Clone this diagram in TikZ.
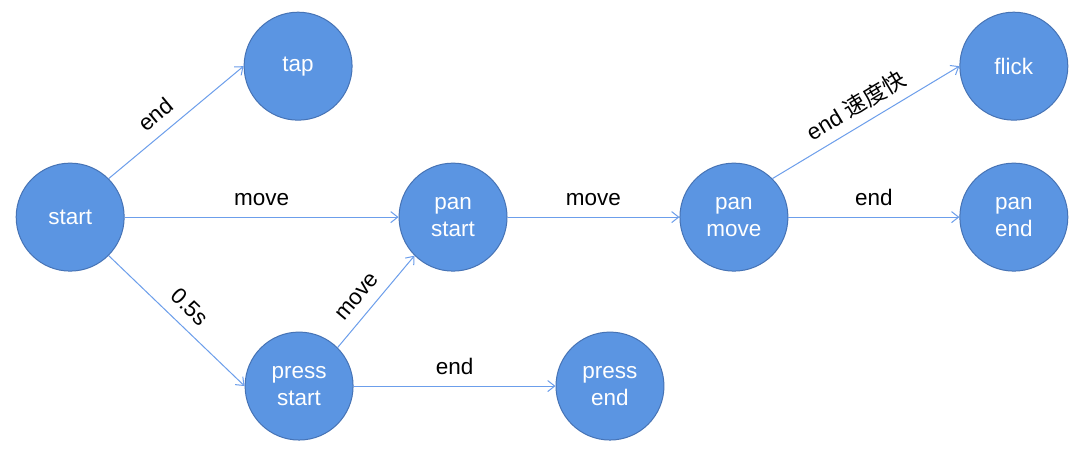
\documentclass[tikz,border=0pt]{standalone}
\usepackage{fontspec}
\setmainfont{Liberation Sans}
\newfontfamily\cjk{Noto Sans CJK SC}
\usetikzlibrary{arrows.meta}
\definecolor{statefill}{HTML}{5B95E2}
\definecolor{stateline}{HTML}{4673B5}
\definecolor{edgeline}{HTML}{6C9EEB}

\begin{document}
\begin{tikzpicture}[x=1pt,y=1pt,
  state/.style={circle,draw=stateline,fill=statefill,line width=1pt,minimum size=108pt,
    inner sep=0pt,align=center,text=white,font=\fontsize{22.5}{27}\selectfont},
  trans/.style={draw=edgeline,line width=1pt,-{Straight Barb[length=7pt,width=11pt]}},
  lbl/.style={font=\fontsize{22.5}{27}\selectfont,inner sep=2pt,text depth=0pt}]
\filldraw[color=white] (0.000000, 0.000000) rectangle (1089.000000, 455.000000);
% Drawing states
\node[state] (start) at (70.000000, 238.000000) {start};
\node[state] (tap) at (298.000000, 389.000000) {tap};
\node[state] (panstart) at (453.000000, 238.000000) {pan\\start};
\node[state] (pressstart) at (299.000000, 69.000000) {press\\start};
\node[state] (pressend) at (610.000000, 69.000000) {press\\end};
\node[state] (panmove) at (734.000000, 238.000000) {pan\\move};
\node[state] (flick) at (1014.000000, 389.000000) {flick};
\node[state] (panend) at (1014.000000, 238.000000) {pan\\end};
% Done with states; drawing transitions
\draw[trans] (start.north east) -- node[lbl,pos=0.44,sloped,above=9pt] {end} (tap.west);
\draw[trans] (start.east) -- node[lbl,midway,above=9pt] {move} (panstart.west);
\draw[trans] (start.south east) -- node[lbl,midway,sloped,above=9pt] {0.5s} (pressstart.west);
\draw[trans] (pressstart.north east) -- node[lbl,pos=0.43,sloped,above=9pt] {move} (panstart.south west);
\draw[trans] (pressstart.east) -- node[lbl,midway,above=9pt] {end} (pressend.west);
\draw[trans] (panstart.east) -- node[lbl,midway,above=9pt] {move} (panmove.west);
\draw[trans] (panmove.north east) -- node[lbl,midway,sloped,above=9pt] {end {\cjk 速度快}} (flick.west);
\draw[trans] (panmove.east) -- node[lbl,midway,above=9pt] {end} (panend.west);
% Done with transitions
\end{tikzpicture}
\end{document}
